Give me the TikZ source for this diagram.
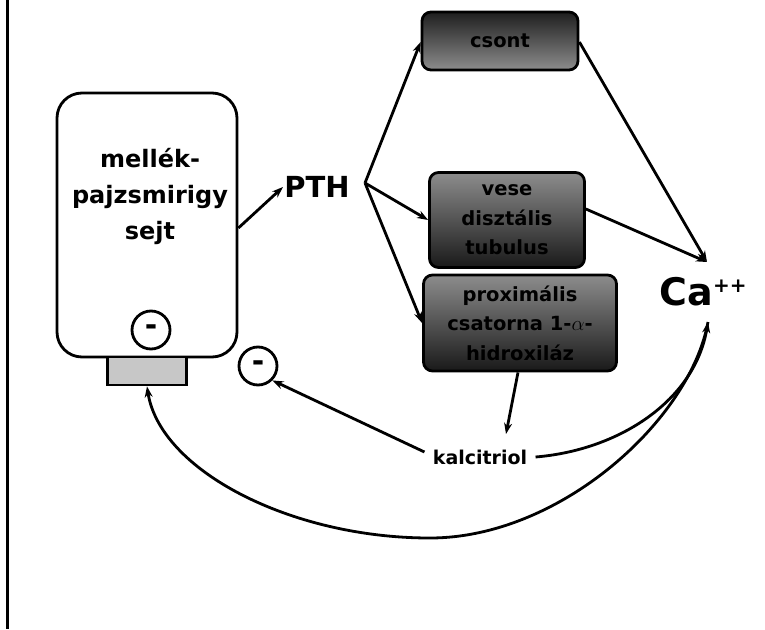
\documentclass[tikz,border=0pt]{standalone}
\usepackage{fontspec}
\setmainfont{DejaVu Sans}
\usetikzlibrary{arrows.meta}
\begin{document}
\begin{tikzpicture}[x=1pt,y=-1pt,line width=2.8pt,
  arr/.style={-{Stealth[length=11pt,width=8pt]}},
  gbox/.style={draw=black,line width=2.8pt,rounded corners=9pt,align=center,
    font=\fontsize{19.5}{29.5}\selectfont\bfseries,inner sep=0pt},
  darktop/.style={top color=black!88,bottom color=black!45},
  darkbot/.style={top color=black!45,bottom color=black!90},
  minus/.style={circle,draw=black,line width=2.8pt,minimum size=38pt,inner sep=0pt,
    font=\fontsize{30}{30}\selectfont\bfseries},
  lbl/.style={inner sep=0pt,font=\bfseries}]
\useasboundingbox (0,0) rectangle (765,629);
% left frame line
\coordinate (ftop) at (7,0);
\coordinate (fbot) at (7,629);
\draw[line width=3pt] (ftop) -- (fbot);
% cell
\node[draw=black,line width=2.8pt,rounded corners=25pt,minimum width=180pt,minimum height=264pt,inner sep=0pt] (cell) at (147,225) {};
\node[lbl,align=center,font=\fontsize{24}{36}\selectfont\bfseries] (celltext) at (150,196) {mellék-\\pajzsmirigy\\sejt};
\node[minus] (m1) at (151,330) {-};
\node[draw=black,line width=2.8pt,fill=black!22,minimum width=79pt,minimum height=28pt,inner sep=0pt] (rec) at (147,371) {};
\node[minus] (m2) at (258,366) {-};
% PTH
\node[lbl,font=\fontsize{29}{29}\selectfont\bfseries] (pth) at (317,187) {PTH};
\coordinate (pthv) at (365,183);
% boxes
\node[gbox,darktop,minimum width=156pt,minimum height=58pt] (csont) at (500,41) {csont};
\node[gbox,darkbot,minimum width=155pt,minimum height=95pt] (vese) at (507,220) {vese\\disztális\\tubulus};
\node[gbox,darkbot,minimum width=193pt,minimum height=96pt] (prox) at (520,323) {proximális\\csatorna 1-$\alpha$-\\hidroxiláz};
% Ca
\node[lbl,font=\fontsize{38}{38}\selectfont\bfseries] (ca) at (703,292) {Ca\raisebox{13pt}{\fontsize{20}{20}\selectfont\bfseries ++}};
\coordinate (catop) at (707,262);
\coordinate (cabot) at (708,322);
% kalcitriol
\node[lbl,inner sep=7pt,font=\fontsize{19}{19}\selectfont\bfseries] (kal) at (480,457) {kalcitriol};
% connectors
\draw[arr] (cell.east |- 0,228) -- (pth.west |- 0,187);
\draw[arr] (pthv) -- (csont.west |- 0,42);
\draw[arr] (pthv) -- (vese.west |- 0,220);
\draw[arr] (pthv) -- (prox.west |- 0,323);
\draw[arr] (csont.east |- 0,42) -- (catop);
\draw[arr] (vese.east |- 0,209) -- (catop);
\draw[arr] (prox.south -| 518,0) -- (506,434);
\draw[arr] (kal.west |- 0,452) -- (m2.south east);
\draw[arr] (kal.east) .. controls (620,450) and (695,400) .. (cabot);
\draw[arr] (cabot) .. controls (690,420) and (560,538) .. (430,538)
  .. controls (290,538) and (160,470) .. (rec.south);
\end{tikzpicture}
\end{document}
